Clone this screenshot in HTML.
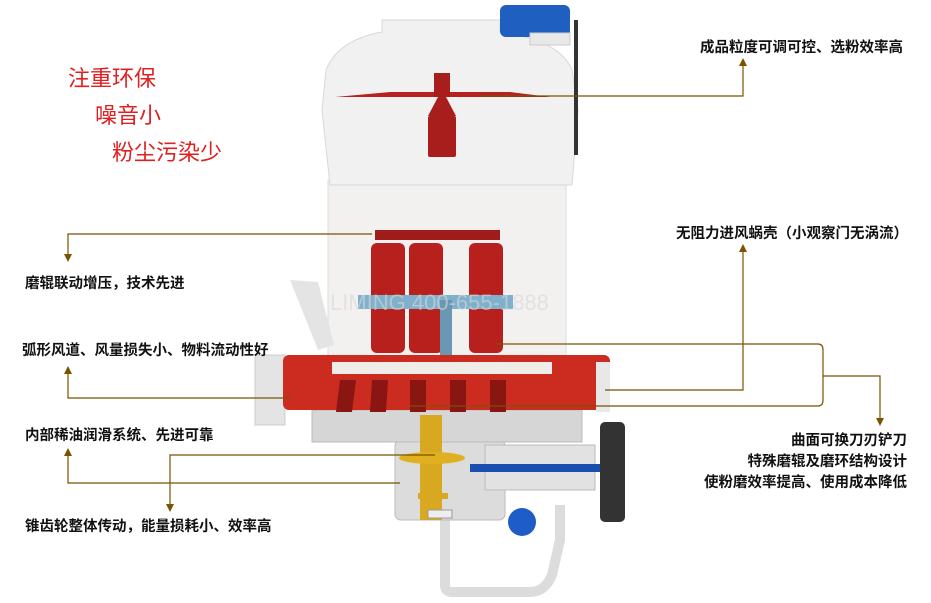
<!DOCTYPE html>
<html><head><meta charset="utf-8"><style>
html,body{margin:0;padding:0;background:#fff;width:931px;height:603px;overflow:hidden}
svg{display:block}
.t{font-family:"Liberation Sans","Noto Sans CJK SC",sans-serif;font-size:14.5px;font-weight:bold;fill:#111}
.r{font-family:"Liberation Sans","Noto Sans CJK SC",sans-serif;font-size:22px;fill:#e02020}
.l{stroke:#7a5200;stroke-width:1.2;fill:none}
</style></head><body>
<svg width="931" height="603" viewBox="0 0 931 603">
<!-- bottom pipes -->
<path d="M445 520 L445 585 Q445 592 452 592 L530 592 Q545 592 552 575 L560 540 L560 505" fill="none" stroke="#dcdcdc" stroke-width="10"/>
<!-- lower housing -->
<rect x="395" y="440" width="110" height="80" rx="6" fill="#dcdcdc" stroke="#bbb"/>
<rect x="312" y="410" width="270" height="32" fill="#d6d6d6" stroke="#bbb"/>
<rect x="485" y="445" width="110" height="45" fill="#e2e2e2" stroke="#bbb"/>
<rect x="420" y="415" width="22" height="105" fill="#d8a920"/>
<ellipse cx="432" cy="458" rx="33" ry="6" fill="#e0b020"/>
<rect x="418" y="493" width="30" height="6" fill="#d8a920"/>
<rect x="428" y="510" width="24" height="8" fill="#eee" stroke="#999"/>
<rect x="470" y="464" width="135" height="8" fill="#1a4fb0"/>
<rect x="600" y="422" width="25" height="100" rx="5" fill="#333"/>
<circle cx="522" cy="522" r="14" fill="#1e5cc8"/>
<!-- middle cylinder -->
<rect x="328" y="180" width="238" height="178" fill="#f2f1ef" stroke="#ddd"/>
<!-- top dome -->
<path d="M382 20 L500 20 L500 32 Q560 40 572 70 L578 110 L572 185 L330 185 L322 110 L326 70 Q338 40 382 32 Z" fill="#f1f1f1" stroke="#d8d8d8"/>
<rect x="500" y="5" width="70" height="32" rx="6" fill="#1f5fc0"/>
<rect x="530" y="33" width="40" height="12" fill="#e8e8e8" stroke="#ccc"/>
<rect x="574" y="20" width="4" height="135" fill="#333"/>
<!-- separator -->
<path d="M335 97 L390 92 L510 92 L550 97 Z" fill="#b52220"/>
<rect x="434" y="73" width="16" height="24" fill="#a81e1c"/>
<path d="M438 97 L446 97 L456 116 L428 116 Z" fill="#a81e1c"/>
<rect x="428" y="116" width="28" height="41" rx="2" fill="#a81e1c"/>
<!-- chute -->
<path d="M290 280 L318 282 L334 345 L318 350 Z" fill="#e4e4e4"/>
<!-- rollers -->
<g fill="#b8201e">
<rect x="371" y="243" width="34" height="110" rx="6"/>
<rect x="409" y="243" width="34" height="110" rx="6"/>
<rect x="469" y="243" width="34" height="110" rx="6"/>
</g>
<rect x="375" y="230" width="125" height="10" fill="#a01c1a"/>
<rect x="358" y="295" width="155" height="14" fill="#7fb0cc"/>
<rect x="440" y="300" width="12" height="55" fill="#6a98b4"/>
<text x="330" y="310" font-family="Liberation Sans,Noto Sans CJK SC,sans-serif" font-size="22" fill="#d8d8d8" opacity="0.6">LIMING 400-655-1888</text>
<!-- red base -->
<rect x="255" y="355" width="30" height="70" fill="#e4e4e4" stroke="#ccc"/>
<rect x="283" y="355" width="327" height="55" rx="6" fill="#cc2b20"/>
<rect x="332" y="362" width="220" height="12" fill="#f0ece8"/>
<g fill="#8a1614"><path d="M340 380 L356 380 L352 412 L336 412Z"/><path d="M372 380 L388 380 L386 412 L370 412Z"/><rect x="410" y="380" width="16" height="32"/><rect x="450" y="380" width="16" height="32"/><rect x="490" y="380" width="16" height="32"/></g>
<rect x="596" y="362" width="14" height="50" fill="#e8e8e8"/>
<!-- red text -->
<text class="r" x="68" y="86">注重环保</text>
<text class="r" x="95" y="123">噪音小</text>
<text class="r" x="112" y="160">粉尘污染少</text>
<!-- labels -->
<text class="t" x="700" y="52">成品粒度可调可控、选粉效率高</text>
<text class="t" x="676" y="238">无阻力进风蜗壳（小观察门无涡流）</text>
<text class="t" x="25" y="288">磨辊联动增压，技术先进</text>
<text class="t" x="22" y="355">弧形风道、风量损失小、物料流动性好</text>
<text class="t" x="25" y="440">内部稀油润滑系统、先进可靠</text>
<text class="t" x="25" y="531">锥齿轮整体传动，能量损耗小、效率高</text>
<text class="t" x="907" y="445" text-anchor="end">曲面可换刀刃铲刀</text>
<text class="t" x="907" y="466" text-anchor="end">特殊磨辊及磨环结构设计</text>
<text class="t" x="907" y="487" text-anchor="end">使粉磨效率提高、使用成本降低</text>
<!-- connectors -->
<path class="l" d="M480 96 L743 96 L743 64"/><path d="M739 66 L743 58 L747 66 Z" fill="#7a5200"/>
<path class="l" d="M743 250 L743 390 L605 390"/><path d="M739 252 L743 244 L747 252 Z" fill="#7a5200"/>
<path class="l" d="M372 234 L68 234 L68 256"/><path d="M64 254 L68 262 L72 254 Z" fill="#7a5200"/>
<path class="l" d="M68 372 L68 398 L290 398"/><path d="M64 374 L68 366 L72 374 Z" fill="#7a5200"/>
<path class="l" d="M68 454 L68 483 L400 483"/><path d="M64 456 L68 448 L72 456 Z" fill="#7a5200"/>
<path class="l" d="M435 455 L170 455 L170 506"/><path d="M166 504 L170 512 L174 504 Z" fill="#7a5200"/>
<path class="l" d="M495 344 L818 344 Q823 344 823 350 L823 400 Q823 406 818 406 L410 406"/>
<path class="l" d="M823 376 L880 376 L880 420"/><path d="M876 418 L880 426 L884 418 Z" fill="#7a5200"/>
</svg>
</body></html>
